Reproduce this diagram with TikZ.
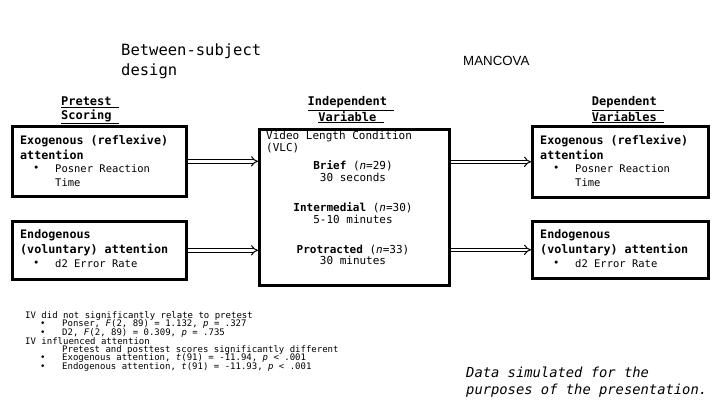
\documentclass[tikz,border=0pt]{standalone}
\usepackage{fontspec}
\setmonofont{DejaVu Sans Mono}
\newfontfamily\titlefont{Liberation Sans}
\usetikzlibrary{arrows.meta}
\begin{document}
\begin{tikzpicture}[x=1pt, y=-1pt,
    txt/.style={inner sep=0pt, anchor=west, align=left, font=\ttfamily\fontsize{10.5}{14}\selectfont},
    head/.style={inner sep=0pt, anchor=west, align=left, font=\ttfamily\bfseries\fontsize{11.7}{15}\selectfont},
    colhead/.style={inner sep=0pt, align=center, font=\ttfamily\bfseries\fontsize{12}{14}\selectfont},
    note/.style={inner sep=0pt, anchor=west, font=\ttfamily\fontsize{9}{9}\selectfont},
    boxed/.style={draw, line width=2.6pt, inner sep=0pt, anchor=north west},
    dbl/.style={double, double distance=2.5pt, line width=1pt, -{Implies}}]
    \useasboundingbox (0, 0) rectangle (720, 405);

    \node[inner sep=0pt, anchor=west, align=left, font=\ttfamily\fontsize{15.5}{20}\selectfont] (design) at (121, 61) {Between-subject\\design};
    \node[inner sep=0pt, anchor=west, font=\titlefont\fontsize{13.3}{15}\selectfont] (mancova) at (463, 61) {MANCOVA};

    \begin{scope}
      \node[colhead] (pretest) at (90, 110) {\underline{Pretest }\\\underline{Scoring }};
      \node[boxed, minimum width=174, minimum height=70] (preExo) at (11, 125) {};
      \node[head] (preExoText) at (20, 147.5) {Exogenous (reflexive)\\attention};
      \node[txt] (preExoDot) at (33, 168.5) {\textbullet};
      \node[txt] (preExoItem) at (55, 175.5) {Posner Reaction\\Time};

      \node[boxed, minimum width=174, minimum height=58] (preEndo) at (11, 220) {};
      \node[head] (preEndoText) at (20, 243) {Endogenous\\(voluntary) attention};
      \node[txt] (preEndoDot) at (33, 263.5) {\textbullet};
      \node[txt] (preEndoItem) at (55, 263.5) {d2 Error Rate};
    \end{scope}

    \begin{scope}
      \node[colhead] (indep) at (351, 110) {\underline{Independent }\\\underline{Variable }};
      \node[boxed, minimum width=190, minimum height=156] (vlc) at (258, 128) {};
      \node[inner sep=0pt, anchor=west, align=left, font=\ttfamily\fontsize{11}{10.5}\selectfont] (vlcText) at (266, 142) {Video Length Condition\\(VLC)};
      \node[inner sep=0pt, align=center, font=\ttfamily\fontsize{11}{11.5}\selectfont] (brief) at (353, 171) {\textbf{Brief} (\textit{n}=29)\\30 seconds};
      \node[inner sep=0pt, align=center, font=\ttfamily\fontsize{11}{11.5}\selectfont] (inter) at (353, 213) {\textbf{Intermedial} (\textit{n}=30)\\5-10 minutes};
      \node[inner sep=0pt, align=center, font=\ttfamily\fontsize{11}{11.5}\selectfont] (protr) at (353, 255) {\textbf{Protracted} (\textit{n}=33)\\30 minutes};
    \end{scope}

    \begin{scope}
      \node[colhead] (dep) at (628, 110) {\underline{Dependent }\\\underline{Variables }};
      \node[boxed, minimum width=176, minimum height=71] (postExo) at (531, 125) {};
      \node[head] (postExoText) at (540, 147.5) {Exogenous (reflexive)\\attention};
      \node[txt] (postExoDot) at (553, 168.5) {\textbullet};
      \node[txt] (postExoItem) at (575, 175.5) {Posner Reaction\\Time};

      \node[boxed, minimum width=176, minimum height=57] (postEndo) at (531, 220) {};
      \node[head] (postEndoText) at (540, 242.5) {Endogenous\\(voluntary) attention};
      \node[txt] (postEndoDot) at (553, 263.5) {\textbullet};
      \node[txt] (postEndoItem) at (575, 263.5) {d2 Error Rate};
    \end{scope}

    \draw[dbl] (preExo.east) -- (preExo.east -| vlc.west);
    \draw[dbl] (preEndo.east) -- (preEndo.east -| vlc.west);
    \draw[dbl] (postExo.west -| vlc.east) -- (postExo.west);
    \draw[dbl] (postEndo.west -| vlc.east) -- (postEndo.west);

    \node[note] (n1) at (25, 316) {IV did not significantly relate to pretest};
    \node[note] (b2) at (40, 324.5) {\textbullet};
    \node[note] (n2) at (62, 324.5) {Ponser, \textit{F}(2, 89) = 1.132, \textit{p}  = .327};
    \node[note] (b3) at (40, 333) {\textbullet};
    \node[note] (n3) at (62, 333) {D2, \textit{F}(2, 89) = 0.309, \textit{p} = .735};
    \node[note] (n4) at (25, 341.5) {IV influenced attention};
    \node[note] (n5) at (62, 350) {Pretest and posttest scores significantly different};
    \node[note] (b6) at (40, 358.5) {\textbullet};
    \node[note] (n6) at (62, 358.5) {Exogenous attention, \textit{t}(91) = -11.94, \textit{p} < .001};
    \node[note] (b7) at (40, 367) {\textbullet};
    \node[note] (n7) at (62, 367) {Endogenous attention, \textit{t}(91) = -11.93, \textit{p} < .001};

    \node[inner sep=0pt, anchor=west, align=left, font=\ttfamily\itshape\fontsize{13.8}{17}\selectfont] (sim) at (466, 382.5) {Data simulated for the\\purposes of the presentation.};
  \end{tikzpicture}
\end{document}
